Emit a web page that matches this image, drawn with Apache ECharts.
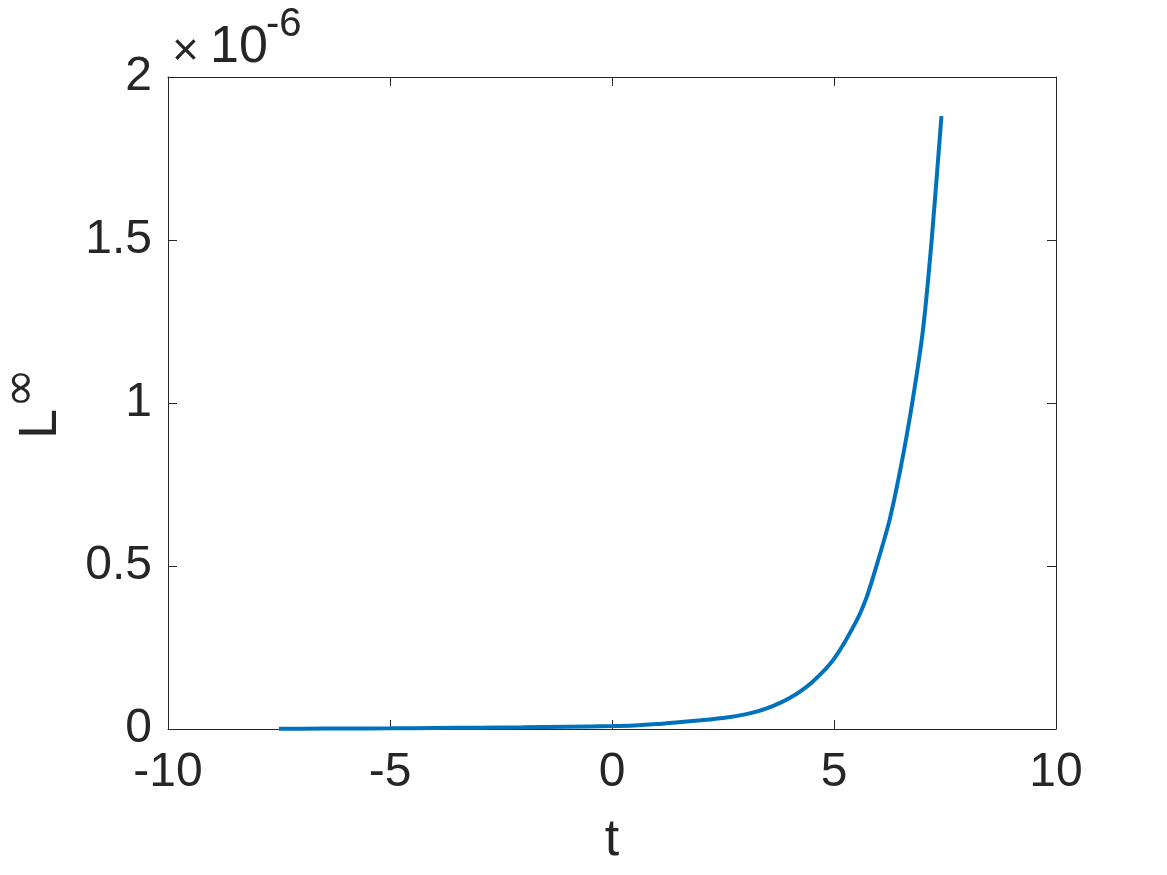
<!DOCTYPE html>
<html>
<head>
<meta charset="utf-8">
<script src="https://cdn.jsdelivr.net/npm/echarts@6/dist/echarts.min.js"></script>
<style>
html,body{margin:0;padding:0;background:#fff;}
#chart{width:1167px;height:875px;}
</style>
</head>
<body>
<div id="chart"></div>
<script>
// time values t
const tValues = [-7.5, -7, -6, -5, -4, -3, -2, -1, 0, 0.5, 1, 1.5, 2, 2.5, 3, 3.5, 4, 4.5, 5, 5.5, 5.75, 6, 6.25, 6.5, 6.75, 7, 7.2, 7.42];
// L-infinity values in units of 1e-6
const lInfValues = [0.0008, 0.001, 0.0015, 0.002, 0.003, 0.004, 0.005, 0.007, 0.009, 0.011, 0.015, 0.021, 0.027, 0.034, 0.045, 0.064, 0.095, 0.143, 0.215, 0.33, 0.41, 0.52, 0.64, 0.80, 0.99, 1.22, 1.50, 1.88];
const xTicks = [-10, -5, 0, 5, 10];
const yTicks = [0, 0.5, 1, 1.5, 2];
const xName = 't';
const yNameMain = 'L';
const yNameSup = '∞';
const multiplierBase = '10';
const multiplierExp = '-6';

const FONT = '"Liberation Sans", Arial, Helvetica, sans-serif';
const AX = '#262626';
const chart = echarts.init(document.getElementById('chart'));
const data = tValues.map((t, i) => [t, lInfValues[i]]);

const baseAxis = {
  axisLine: { show: true, onZero: false, lineStyle: { color: AX, width: 1 } },
  axisTick: { show: true, inside: true, length: 9, lineStyle: { color: AX, width: 1 } },
  splitLine: { show: false }
};

chart.setOption({
  animation: false,
  backgroundColor: '#fff',
  grid: { left: 168, right: 111, top: 77, bottom: 146, containLabel: false, outerBoundsMode: 'none' },
  xAxis: [
    Object.assign({}, baseAxis, {
      type: 'value', min: xTicks[0], max: xTicks[xTicks.length - 1], interval: 5, position: 'bottom',
      axisLabel: { color: AX, fontSize: 48, fontFamily: FONT, margin: 20 },
      name: xName, nameLocation: 'middle', nameGap: 86,
      nameTextStyle: { color: AX, fontSize: 52, fontFamily: FONT }
    }),
    Object.assign({}, baseAxis, {
      type: 'value', min: xTicks[0], max: xTicks[xTicks.length - 1], interval: 5, position: 'top',
      axisLabel: { show: false }
    })
  ],
  yAxis: [
    Object.assign({}, baseAxis, {
      type: 'value', min: yTicks[0], max: yTicks[yTicks.length - 1], interval: 0.5, position: 'left',
      axisLabel: { color: AX, fontSize: 48, fontFamily: FONT, margin: 16 }
    }),
    Object.assign({}, baseAxis, {
      type: 'value', min: yTicks[0], max: yTicks[yTicks.length - 1], interval: 0.5, position: 'right',
      axisLabel: { show: false }
    })
  ],
  graphic: [
    { type: 'text', x: 41, y: 424, rotation: Math.PI / 2,
      style: { text: yNameMain, fontSize: 54, fontFamily: FONT, fill: AX, verticalAlign: 'middle', align: 'center' } },
    { type: 'text', x: 23, y: 388, rotation: Math.PI / 2,
      style: { text: yNameSup, fontSize: 48, fontFamily: '"DejaVu Sans", sans-serif', fill: AX, verticalAlign: 'middle', align: 'center' } },
    { type: 'text', x: 172, y: 52, style: { text: '×', fontSize: 46, fontFamily: FONT, fill: AX, verticalAlign: 'middle', align: 'left' } },
    { type: 'text', x: 210, y: 48, style: { text: multiplierBase, fontSize: 52, fontFamily: FONT, fill: AX, verticalAlign: 'middle', align: 'left' } },
    { type: 'text', x: 266, y: 25, style: { text: multiplierExp, fontSize: 40, fontFamily: FONT, fill: AX, verticalAlign: 'middle', align: 'left' } }
  ],
  series: [{
    type: 'line', xAxisIndex: 0, yAxisIndex: 0,
    data: data, showSymbol: false, smooth: 0.25,
    lineStyle: { color: '#0072BD', width: 4 },
    itemStyle: { color: '#0072BD' }
  }]
});
</script>
</body>
</html>
